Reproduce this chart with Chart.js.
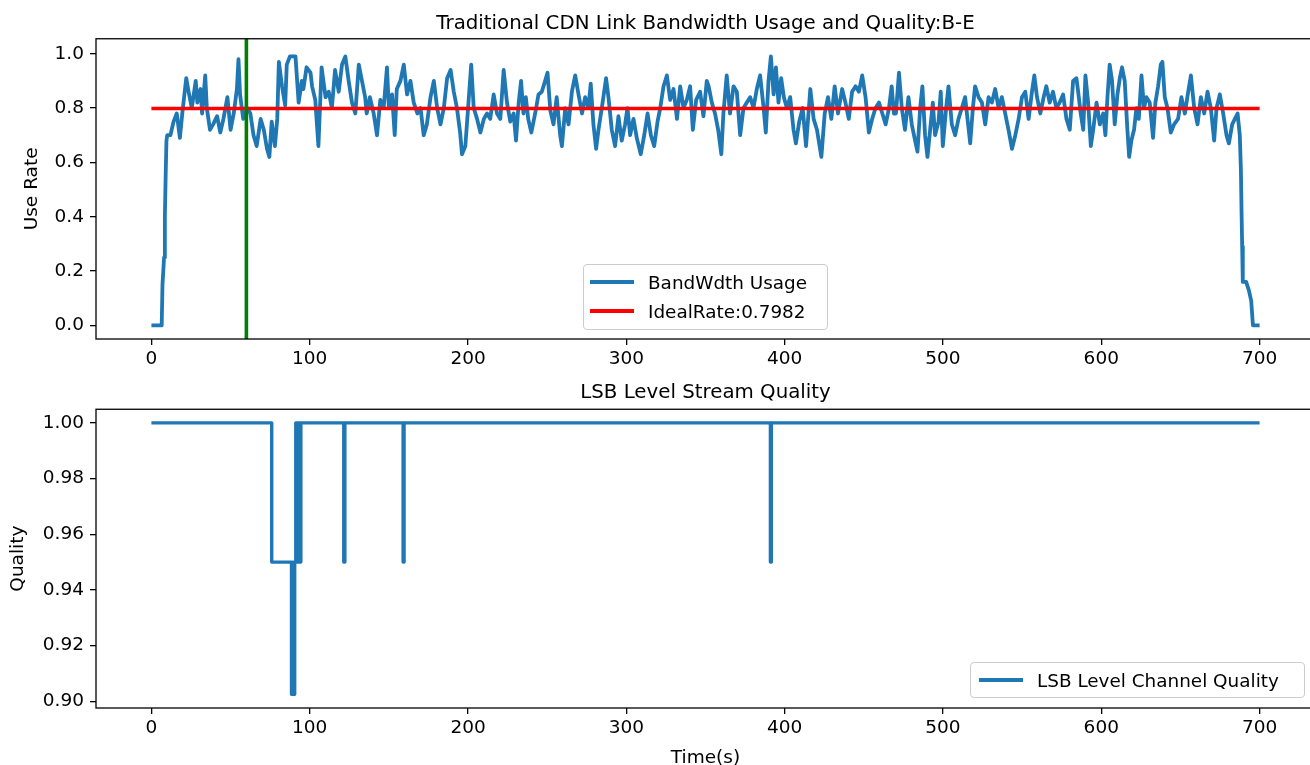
<!DOCTYPE html>
<html>
<head>
<meta charset="utf-8">
<title>Traditional CDN Link Bandwidth Usage and Quality</title>
<script src="https://cdn.jsdelivr.net/npm/chart.js@4.4.0/dist/chart.umd.min.js"></script>
<style>
  html, body { margin: 0; padding: 0; background: #fff; overflow: hidden; width: 1310px; height: 765px; }
  .panel { position: absolute; left: 0; }
  .legend {
    position: absolute; box-sizing: border-box;
    background: rgba(255,255,255,0.8); border: 1px solid #cccccc; border-radius: 4px;
    font-family: "DejaVu Sans", sans-serif; font-size: 18.4px; color: #000;
  }
  .legend .row { position: absolute; left: 0; display: flex; align-items: center; height: 26px; white-space: nowrap; }
  .legend .swatch { width: 44px; height: 3.5px; margin-left: 6px; margin-right: 14px; }
</style>
</head>
<body>
<canvas id="topChart" class="panel" width="1320" height="370" style="top:0"></canvas>
<canvas id="bottomChart" class="panel" width="1320" height="400" style="top:370px"></canvas>

<div class="legend" style="left:583px; top:264px; width:245px; height:66px;">
  <div class="row" style="top:4px"><span class="swatch" style="background:#1f77b4"></span>BandWdth Usage</div>
  <div class="row" style="top:33px"><span class="swatch" style="background:#ff0000"></span>IdealRate:0.7982</div>
</div>
<div class="legend" style="left:970px; top:662px; width:335px; height:36px;">
  <div class="row" style="top:4px"><span class="swatch" style="background:#1f77b4; margin-left:8px"></span>LSB Level Channel Quality</div>
</div>

<script>
// --- data ---
const usageTime = [
  0, 5, 6.5, 7, 8, 8.5, 9, 9.5, 10, 12, 14, 16, 18, 19.5, 22, 23.5, 25.5, 28, 29, 31,
  32, 34, 35, 37, 39, 41.5, 43.5, 45.5, 48, 50, 52, 54, 55, 56, 58, 60.5, 62.5, 64.5, 66.5, 69,
  71, 73, 74.5, 76, 78, 79.5, 80.5, 82.5, 84.5, 85.5, 87.5, 91, 93, 95, 96, 98, 100.5, 101.5, 103.5, 105.5,
  107.5, 110, 112, 114, 116, 118.3, 120.4, 122.5, 124.6, 126.7, 128.8, 131, 133, 135, 136, 138, 140.4, 142.5, 144.6, 146.7,
  148.8, 150, 152, 153.7, 155, 157.3, 159.4, 161.5, 163.6, 165.7, 168, 170, 172, 174, 176.3, 178.4, 180.5, 182.6, 184.7, 186.8,
  189, 191, 193, 195, 196.2, 198.3, 200.4, 202, 203.6, 205.7, 207.8, 210, 212, 214, 216.2, 218.3, 220.4, 222.5, 224.6, 226.7,
  228.8, 230.3, 232, 233.5, 235, 236.5, 238, 240, 242.4, 244.5, 246.6, 248.7, 250.2, 252, 254, 256, 258.2, 259.3, 261.4, 263.5,
  265.6, 267.7, 269.8, 272, 274, 276, 277.5, 279.2, 280.9, 282.4, 284.5, 287.2, 288.7, 290.8, 292.9, 295, 297.1, 299.2, 300.7, 302.4,
  304.5, 306.6, 309.1, 311.3, 313.4, 315.5, 317.6, 319.7, 321.4, 323.5, 325.6, 327.7, 329.8, 332, 334, 336.1, 338.2, 340.3, 342, 344.1,
  346.6, 348.7, 350.8, 352, 354, 356, 358, 360, 361.3, 363.4, 365.5, 367.7, 369.8, 371.9, 374, 376.1, 378.2, 380.3, 382.4, 384.5,
  386.7, 388.1, 389.8, 391.3, 393, 394.5, 396.1, 397.8, 399.5, 401.4, 403.5, 405.6, 407.1, 409.2, 411.4, 413.5, 416.2, 418.3, 420.4, 423.2,
  425.3, 427.4, 429.5, 431.6, 433.7, 436.3, 438.4, 440.5, 442.6, 444.8, 446.9, 449, 451.1, 453.2, 455.3, 457.4, 459.6, 461.7, 463.8, 465.9,
  467.6, 469, 470.3, 472.2, 474, 476, 478.2, 480.3, 482.4, 483.9, 485.6, 487, 488.7, 490.2, 491.9, 493.6, 495, 497.2, 498.6, 499.9,
  502, 503.5, 505.6, 507.7, 509.8, 511.9, 514, 515.5, 517.2, 518.9, 520.3, 522.5, 524.6, 526.7, 528.8, 530.9, 533, 535.1, 537.2, 539.3,
  541.4, 543.6, 545.7, 547.8, 549.9, 552, 554.1, 556.2, 557.7, 559.4, 561.5, 563.6, 565.3, 567.4, 569.5, 571.6, 573.7, 575.9, 578, 580.1,
  582.2, 584.3, 585.4, 587, 588.6, 590, 591.7, 593.4, 594.9, 597, 599.1, 601.2, 602.6, 603.9, 605.3, 606.8, 608.5, 610.2, 611.7, 613.1,
  614.8, 616.5, 617.6, 619, 620.7, 622.2, 623.7, 625.4, 627, 628.5, 630.6, 632.7, 634.2, 635.9, 637.6, 638.6, 640.1, 641.8, 643.9, 646,
  648.5, 650.6, 652.8, 654.9, 656.6, 658.7, 660.8, 662.9, 665, 667.1, 669.2, 671.3, 672.8, 674.9, 677, 679.1, 680.6, 682.7, 684.4, 686.1,
  687.5, 688.2, 688.6, 689, 689.4, 691.5, 693.2, 694.7, 695.8, 700
];
const usageRate = [
  0, 0, 0, 0.15, 0.25, 0.40, 0.55, 0.68, 0.70, 0.70, 0.75, 0.78, 0.69, 0.78, 0.91, 0.86, 0.80, 0.90, 0.82, 0.87,
  0.78, 0.92, 0.80, 0.72, 0.74, 0.77, 0.71, 0.76, 0.84, 0.72, 0.78, 0.87, 0.98, 0.85, 0.76, 0.80, 0.78, 0.70, 0.66, 0.76,
  0.72, 0.65, 0.62, 0.75, 0.66, 0.76, 0.97, 0.88, 0.81, 0.96, 0.99, 0.99, 0.82, 0.90, 0.87, 0.95, 0.93, 0.88, 0.83, 0.66,
  0.95, 0.84, 0.86, 0.80, 0.94, 0.86, 0.96, 0.99, 0.90, 0.82, 0.78, 0.96, 0.90, 0.84, 0.78, 0.84, 0.78, 0.70, 0.83, 0.80,
  0.95, 0.80, 0.85, 0.70, 0.87, 0.90, 0.96, 0.85, 0.90, 0.82, 0.78, 0.80, 0.70, 0.74, 0.84, 0.90, 0.80, 0.74, 0.80, 0.91,
  0.94, 0.86, 0.80, 0.71, 0.63, 0.66, 0.83, 0.96, 0.80, 0.76, 0.71, 0.76, 0.78, 0.76, 0.85, 0.78, 0.76, 0.94, 0.82, 0.75,
  0.78, 0.68, 0.82, 0.90, 0.78, 0.84, 0.76, 0.71, 0.78, 0.85, 0.86, 0.90, 0.93, 0.79, 0.74, 0.84, 0.70, 0.66, 0.80, 0.74,
  0.86, 0.92, 0.85, 0.78, 0.84, 0.80, 0.89, 0.74, 0.65, 0.72, 0.80, 0.91, 0.84, 0.72, 0.66, 0.77, 0.68, 0.74, 0.80, 0.70,
  0.76, 0.69, 0.63, 0.70, 0.78, 0.70, 0.66, 0.75, 0.80, 0.88, 0.92, 0.83, 0.87, 0.76, 0.88, 0.80, 0.83, 0.88, 0.72, 0.83,
  0.86, 0.77, 0.90, 0.88, 0.82, 0.78, 0.72, 0.63, 0.78, 0.92, 0.78, 0.88, 0.86, 0.70, 0.80, 0.82, 0.84, 0.80, 0.87, 0.92,
  0.80, 0.71, 0.90, 0.99, 0.85, 0.95, 0.82, 0.91, 0.84, 0.80, 0.84, 0.72, 0.67, 0.75, 0.80, 0.66, 0.87, 0.76, 0.72, 0.62,
  0.78, 0.84, 0.76, 0.88, 0.78, 0.87, 0.82, 0.76, 0.86, 0.88, 0.86, 0.92, 0.84, 0.71, 0.76, 0.80, 0.82, 0.78, 0.74, 0.80,
  0.88, 0.78, 0.78, 0.93, 0.80, 0.72, 0.84, 0.74, 0.68, 0.64, 0.80, 0.88, 0.70, 0.62, 0.72, 0.82, 0.70, 0.75, 0.86, 0.66,
  0.80, 0.88, 0.74, 0.70, 0.76, 0.80, 0.84, 0.76, 0.67, 0.80, 0.88, 0.84, 0.82, 0.74, 0.84, 0.82, 0.87, 0.80, 0.84, 0.78,
  0.72, 0.65, 0.70, 0.76, 0.84, 0.86, 0.76, 0.86, 0.92, 0.84, 0.78, 0.84, 0.88, 0.82, 0.86, 0.80, 0.82, 0.85, 0.76, 0.72,
  0.90, 0.91, 0.86, 0.78, 0.72, 0.92, 0.82, 0.66, 0.72, 0.82, 0.74, 0.78, 0.70, 0.84, 0.96, 0.90, 0.74, 0.85, 0.91, 0.95,
  0.90, 0.72, 0.62, 0.68, 0.72, 0.80, 0.76, 0.92, 0.80, 0.84, 0.82, 0.69, 0.82, 0.88, 0.96, 0.97, 0.84, 0.80, 0.71, 0.74,
  0.76, 0.84, 0.78, 0.86, 0.92, 0.80, 0.74, 0.84, 0.78, 0.86, 0.80, 0.68, 0.80, 0.85, 0.78, 0.70, 0.67, 0.74, 0.76, 0.78,
  0.70, 0.57, 0.42, 0.29, 0.16, 0.16, 0.13, 0.09, 0.0, 0
];
const idealRate = 0.7982;
const markerTime = 60;

const qualityTime = [0, 76, 88.5, 89.2, 89.8, 90.5, 91.2, 92, 92.8, 93.6, 94.4, 121.5, 122.2, 159, 159.6, 391, 391.6, 700];
const qualityValue = [1, 0.95, 0.9025, 0.95, 0.9025, 0.95, 1, 0.95, 1, 0.95, 1, 0.95, 1, 0.95, 1, 0.95, 1, 1];

const xTicks = [0, 100, 200, 300, 400, 500, 600, 700];
const topYTicks = [0.0, 0.2, 0.4, 0.6, 0.8, 1.0];
const bottomYTicks = [0.90, 0.92, 0.94, 0.96, 0.98, 1.00];

const topTitle = 'Traditional CDN Link Bandwidth Usage and Quality:B-E';
const bottomTitle = 'LSB Level Stream Quality';

// --- drawing ---
Chart.defaults.font.family = "'DejaVu Sans', sans-serif";
Chart.defaults.color = '#000';

const BLUE = '#1f77b4';
const xRange = { min: -35, max: 735 };

// matplotlib-like box around the axes
const framePlugin = {
  id: 'frame',
  afterDatasetsDraw(chart) {
    const { ctx, chartArea: a } = chart;
    ctx.save();
    ctx.strokeStyle = '#000';
    ctx.lineWidth = 1.3;
    ctx.strokeRect(a.left, a.top, a.right - a.left, a.bottom - a.top);
    ctx.restore();
  }
};

function zip(xs, ys) {
  return xs.map((x, i) => ({ x, y: ys[i] }));
}

function makeAxes(canvasId, cfg) {
  const ctx = document.getElementById(canvasId).getContext('2d');
  return new Chart(ctx, {
    type: 'line',
    data: { datasets: cfg.datasets },
    options: {
      responsive: false,
      animation: false,
      events: [],
      layout: { padding: { left: 0, right: 5, top: 0, bottom: 0 } },
      elements: { point: { radius: 0 }, line: { tension: 0, borderJoinStyle: 'round', borderCapStyle: 'butt' } },
      plugins: {
        legend: { display: false },
        tooltip: { enabled: false },
        title: {
          display: true,
          text: cfg.title,
          fullSize: false,
          font: { size: 19.8, weight: 'normal' },
          padding: cfg.titlePadding
        }
      },
      scales: {
        x: {
          type: 'linear',
          min: xRange.min,
          max: xRange.max,
          afterBuildTicks: s => { s.ticks = xTicks.map(v => ({ value: v })); },
          afterFit: s => { s.height = cfg.xHeight; },
          ticks: { autoSkip: false, maxRotation: 0, padding: 3, font: { size: 18.5 }, callback: v => String(v) },
          grid: { drawOnChartArea: false, drawTicks: true, tickLength: 6, color: '#000', lineWidth: 1.3 },
          border: { display: false },
          title: cfg.xTitle ? { display: true, text: cfg.xTitle, font: { size: 18.5 }, padding: { top: 0, bottom: 1 } } : { display: false }
        },
        y: {
          type: 'linear',
          min: cfg.yMin,
          max: cfg.yMax,
          afterBuildTicks: s => { s.ticks = cfg.yTicks.map(v => ({ value: v })); },
          afterFit: s => { s.width = 96; },
          ticks: { padding: 6, font: { size: 18.5 }, callback: v => v.toFixed(cfg.yDigits) },
          grid: { drawOnChartArea: false, drawTicks: true, tickLength: 6, color: '#000', lineWidth: 1.3 },
          border: { display: false },
          title: { display: true, text: cfg.yTitle, font: { size: 18.5 }, padding: { top: cfg.yTitleOffset, bottom: 0 } }
        }
      }
    },
    plugins: [framePlugin]
  });
}

const topYMin = -0.05, topYMax = 1.055;

makeAxes('topChart', {
  title: topTitle,
  titlePadding: { top: 12, bottom: 3 },
  xHeight: 31,
  yMin: topYMin,
  yMax: topYMax,
  yTicks: topYTicks,
  yDigits: 1,
  yTitle: 'Use Rate',
  yTitleOffset: 21,
  datasets: [
    {
      label: 'marker',
      data: [{ x: markerTime, y: topYMin }, { x: markerTime, y: topYMax }],
      borderColor: '#008000',
      borderWidth: 3.6
    },
    {
      label: 'IdealRate:' + idealRate,
      data: [{ x: 0, y: idealRate }, { x: 700, y: idealRate }],
      borderColor: '#ff0000',
      borderWidth: 3.6
    },
    {
      label: 'BandWdth Usage',
      data: zip(usageTime, usageRate),
      borderColor: BLUE,
      borderWidth: 3.8
    }
  ]
});

makeAxes('bottomChart', {
  title: bottomTitle,
  titlePadding: { top: 11, bottom: 4.5 },
  xHeight: 62,
  xTitle: 'Time(s)',
  yMin: 0.8976,
  yMax: 1.0049,
  yTicks: bottomYTicks,
  yDigits: 2,
  yTitle: 'Quality',
  yTitleOffset: 7,
  datasets: [
    {
      label: 'LSB Level Channel Quality',
      data: zip(qualityTime, qualityValue),
      borderColor: BLUE,
      borderWidth: 3.4,
      stepped: 'before'
    }
  ]
});
</script>
</body>
</html>
